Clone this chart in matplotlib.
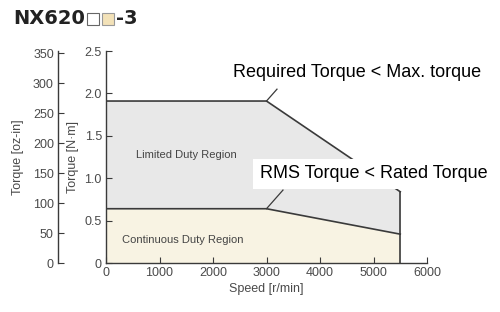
import matplotlib
matplotlib.use("Agg")
import matplotlib.pyplot as plt
from matplotlib.patches import Rectangle

# Data
speed = [0, 3000, 5500]
max_torque = [1.91, 1.91, 0.84]
rated_torque = [0.64, 0.64, 0.34]
x_ticks = [0, 1000, 2000, 3000, 4000, 5000, 6000]
nm_ticks = [0, 0.5, 1.0, 1.5, 2.0, 2.5]
ozin_ticks = [0, 50, 100, 150, 200, 250, 300, 350]
NM_TO_OZIN = 141.6

tick_font = ['Liberation Sans', 'DejaVu Sans']
txt_font = ['Liberation Sans', 'DejaVu Sans']
tick_color = '#4a4a4a'
line_color = '#3a3a3a'

fig = plt.figure(figsize=(5.0, 3.12), dpi=100)
L, B, W, H = 106/500, 1-263/312, 321/500, 212/312
ax = fig.add_axes([L, B, W, H])

# fills
ax.fill_between(speed, rated_torque, max_torque, color='#e8e8e8', lw=0)
ax.fill_between(speed, 0, rated_torque, color='#f8f3e3', lw=0)
ax.plot(speed, max_torque, color=line_color, lw=1.2, solid_joinstyle='round')
ax.plot(speed, rated_torque, color=line_color, lw=1.2)
ax.plot([speed[-1], speed[-1]], [0, max_torque[-1]], color=line_color, lw=1.2)

ax.set_xlim(0, 6000)
ax.set_ylim(0, 2.5)
ax.set_xticks(x_ticks)
ax.set_yticks(nm_ticks)
ax.set_yticklabels(['0', '0.5', '1.0', '1.5', '2.0', '2.5'])
for s in ['top', 'right']:
    ax.spines[s].set_visible(False)
for s in ['left', 'bottom']:
    ax.spines[s].set_color(line_color)
    ax.spines[s].set_linewidth(1.0)
ax.tick_params(direction='in', length=4, color=line_color, labelsize=9,
               labelcolor=tick_color, pad=3)
for lab in ax.get_xticklabels() + ax.get_yticklabels():
    lab.set_family(tick_font)

ax.set_xlabel('Speed [r/min]', family=tick_font, fontsize=9, color=tick_color, labelpad=3)
ax.set_ylabel('Torque [N·m]', family=tick_font, fontsize=9, color=tick_color, labelpad=4)

# region labels
ax.text(1500, 1.27, 'Limited Duty Region', ha='center', va='center',
        family=tick_font, fontsize=8, color='#444444')
ax.text(1440, 0.27, 'Continuous Duty Region', ha='center', va='center',
        family=tick_font, fontsize=8, color='#444444')

# annotations
ax.plot([3000, 3196], [1.91, 2.05], color=line_color, lw=0.9, clip_on=False)
ax.plot([3000, 3308], [0.64, 0.86], color=line_color, lw=0.9, clip_on=False)
ax.text(4690, 2.25, 'Required Torque < Max. torque', ha='center', va='center',
        family=txt_font, fontsize=13, color='black', clip_on=False)
ax.text(5010, 1.05, 'RMS Torque < Rated Torque', ha='center', va='center',
        family=txt_font, fontsize=13, color='black', clip_on=False,
        bbox=dict(facecolor='white', edgecolor='none', pad=5))

# oz-in axis
ax2 = fig.add_axes([58/500, B, 0.001, H])
ax2.set_ylim(0, 2.5*NM_TO_OZIN)
ax2.set_yticks(ozin_ticks)
ax2.set_xticks([])
for s in ['top', 'right', 'bottom']:
    ax2.spines[s].set_visible(False)
ax2.spines['left'].set_color(line_color)
ax2.spines['left'].set_linewidth(1.0)
ax2.patch.set_visible(False)
ax2.tick_params(axis='y', direction='in', length=4, color=line_color, labelsize=9,
                labelcolor=tick_color, pad=3)
for lab in ax2.get_yticklabels():
    lab.set_family(tick_font)
ax2.set_ylabel('Torque [oz-in]', family=tick_font, fontsize=9, color=tick_color, labelpad=6)

# title
fig.text(13/500, 1-19/312, 'NX620', ha='left', va='center', fontsize=14,
         fontweight='bold', family=['DejaVu Sans'], color='#222222')
fig.patches.append(Rectangle((87/500, 1-25/312), 12/500, 12/312, transform=fig.transFigure,
                             facecolor='white', edgecolor='#666666', lw=0.8))
fig.patches.append(Rectangle((102/500, 1-25/312), 12/500, 12/312, transform=fig.transFigure,
                             facecolor='#f3e2b8', edgecolor='#999999', lw=0.8))
fig.text(116/500, 1-19/312, '-3', ha='left', va='center', fontsize=14,
         fontweight='bold', family=['DejaVu Sans'], color='#222222')

fig.savefig('out.png', dpi=100)
